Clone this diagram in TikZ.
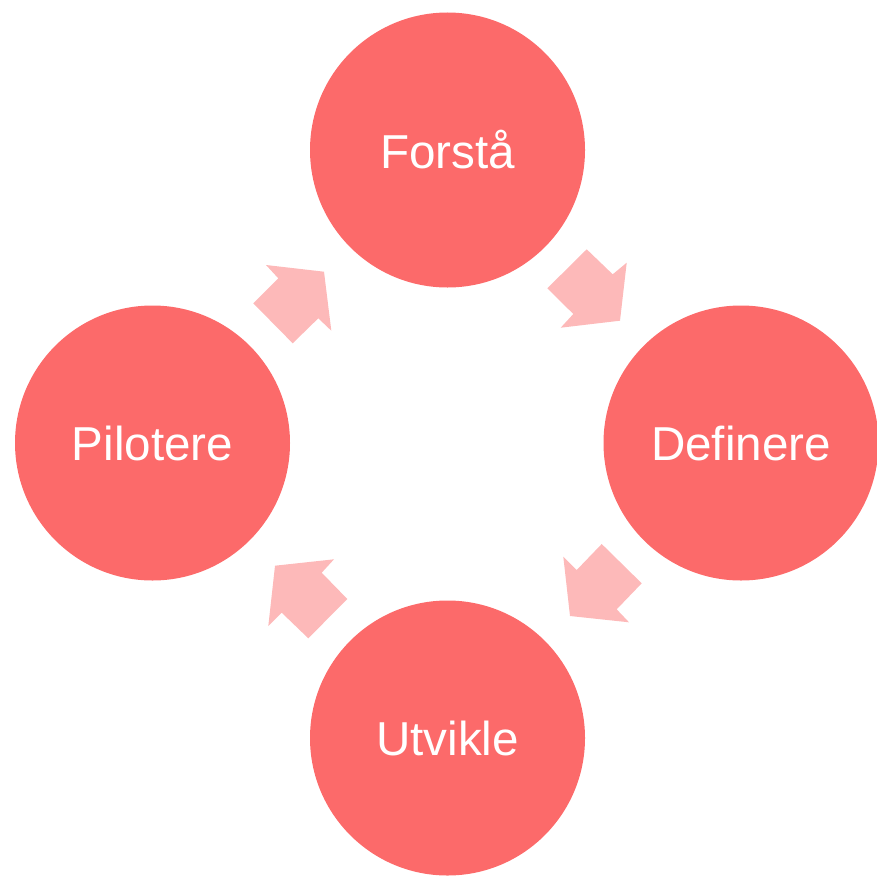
\documentclass[tikz,border=0pt]{standalone}
\usepackage{fontspec}
\setmainfont{Liberation Sans}
\definecolor{circ}{HTML}{FC6A6A}
\definecolor{arr}{HTML}{FDB9B9}
\begin{document}
\begin{tikzpicture}[x=1pt,y=-1pt,
  stage/.style={circle,fill=circ,minimum size=275pt,inner sep=0pt,text=white,font=\fontsize{47.6}{56}\selectfont},
  blockarrow/.style={fill=arr,draw=none}]
\useasboundingbox (0,0) rectangle (877,875);
\node[stage] (forsta) at (447.5,150) {Forstå};
\node[stage] (definere) at (741,443) {Definere};
\node[stage] (utvikle) at (447.5,738) {Utvikle};
\node[stage] (pilotere) at (152.5,443) {Pilotere};
% arrows
\fill[blockarrow] (586.7,249.3) -- (612.7,274.3) -- (626.7,262.7) -- (620,320.7) -- (560.7,327.7) -- (573.3,314) -- (547.3,288.3) -- cycle;
\fill[blockarrow] (601.7,544) -- (641.7,583.3) -- (616.7,609.3) -- (629,622.3) -- (570,616) -- (563.3,556.7) -- (576.7,570) -- cycle;
\fill[blockarrow] (347.3,599) -- (308.3,638.3) -- (281.7,612.7) -- (268.3,626) -- (275,565.7) -- (334,559.3) -- (321.7,572.7) -- cycle;
\fill[blockarrow] (292.7,343.3) -- (253.3,303.3) -- (278.3,278.3) -- (266,265) -- (324,271.7) -- (331.3,330.7) -- (318.3,318.3) -- cycle;
\end{tikzpicture}
\end{document}
